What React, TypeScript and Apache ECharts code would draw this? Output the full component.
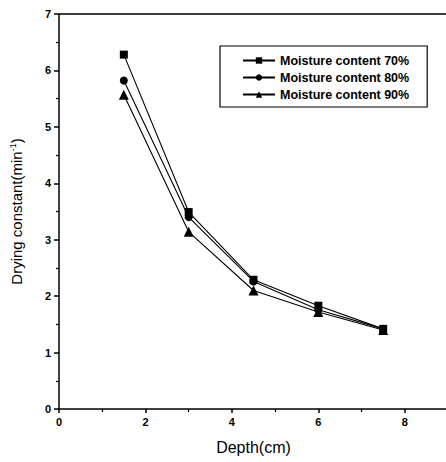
import React, { useEffect, useRef } from "react";
import * as echarts from "echarts";

const depth = [1.5, 3, 4.5, 6, 7.5];
const mc70 = [6.28, 3.49, 2.29, 1.83, 1.42];
const mc80 = [5.82, 3.4, 2.26, 1.76, 1.42];
const mc90 = [5.57, 3.14, 2.1, 1.72, 1.4];
const seriesNames = ["Moisture content 70%", "Moisture content 80%", "Moisture content 90%"];
const symbols = ["rect", "circle", "triangle"];

export default function App() {
  const ref = useRef<HTMLDivElement>(null);
  useEffect(() => {
    document.body.style.margin = "0";
    document.body.style.overflow = "hidden";
    const chart = echarts.init(ref.current!, null, { renderer: "svg" });
    const data = [mc70, mc80, mc90];
    const font = "Liberation Sans, Arial, sans-serif";
    chart.setOption({
      animation: false,
      backgroundColor: "#fff",
      grid: { left: 53, top: 14, right: 22, bottom: 53 },
      legend: {
        left: 220,
        top: 46,
        orient: "vertical",
        itemWidth: 32,
        itemHeight: 8,
        itemGap: 4,
        padding: [8, 18, 6, 22],
        borderColor: "#000",
        borderWidth: 1.2,
        textStyle: { fontFamily: font, fontSize: 12.5, fontWeight: "bold", color: "#000" },
        data: seriesNames,
      },
      xAxis: [
        {
          type: "value",
          min: 0,
          max: 9,
          interval: 2,
          name: "Depth(cm)",
          nameLocation: "middle",
          nameGap: 30,
          nameTextStyle: { fontFamily: font, fontSize: 16, color: "#000" },
          axisLine: { lineStyle: { color: "#000", width: 1.5 } },
          axisTick: { show: true, length: 4, lineStyle: { color: "#000", width: 1.5 } },
          minorTick: { show: true, splitNumber: 2, length: 3, lineStyle: { color: "#000", width: 1.2 } },
          axisLabel: { fontFamily: font, fontSize: 11, fontWeight: "bold", color: "#000", margin: 7, showMaxLabel: false },
          splitLine: { show: false },
        },
        {
          type: "value",
          position: "top",
          min: 0,
          max: 9,
          interval: 2,
          axisLine: { show: true, lineStyle: { color: "#000", width: 1.5 } },
          axisTick: { show: false },
          axisLabel: { show: false },
          splitLine: { show: false },
        },
      ],
      yAxis: {
        type: "value",
        min: 0,
        max: 7,
        interval: 1,
        name: "Drying constant(min{sup|-1})",
        nameLocation: "middle",
        nameGap: 34,
        nameTextStyle: {
          fontFamily: font,
          fontSize: 15,
          color: "#000",
          rich: { sup: { fontFamily: font, fontSize: 9, color: "#000", verticalAlign: "top", padding: [0, 0, 8, 0] } },
        },
        axisLine: { lineStyle: { color: "#000", width: 1.5 } },
        axisTick: { show: true, length: 5, lineStyle: { color: "#000", width: 1.5 } },
        minorTick: { show: true, splitNumber: 2, length: 3, lineStyle: { color: "#000", width: 1.2 } },
        axisLabel: { fontFamily: font, fontSize: 11, fontWeight: "bold", color: "#000", margin: 8 },
        splitLine: { show: false },
      },
      series: data.map((d, i) => ({
        name: seriesNames[i],
        type: "line",
        data: depth.map((x, j) => [x, d[j]]),
        symbol: symbols[i],
        symbolSize: i === 2 ? 10 : 8,
        showAllSymbol: true,
        lineStyle: { color: "#000", width: 1.1 },
        itemStyle: { color: "#000" },
        z: 3 - i,
      })),
    });
    return () => chart.dispose();
  }, []);
  return (
    <div style={{ width: 446, height: 462, overflow: "hidden" }}>
      <div ref={ref} style={{ width: 470, height: 462 }} />
    </div>
  );
}
